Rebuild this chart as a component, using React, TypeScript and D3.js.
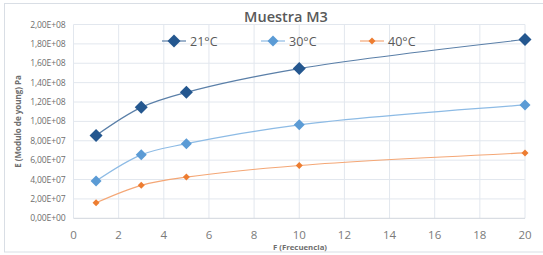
import React from "react";
import * as d3 from "d3";

const freq = [1, 3, 5, 10, 20];
const s21 = [8.55e7, 1.145e8, 1.3e8, 1.545e8, 1.845e8];
const s30 = [3.85e7, 6.55e7, 7.7e7, 9.65e7, 1.17e8];
const s40 = [1.6e7, 3.4e7, 4.25e7, 5.45e7, 6.75e7];
const seriesNames = ["21°C", "30°C", "40°C"];
const xTicks = [0, 2, 4, 6, 8, 10, 12, 14, 16, 18, 20];
const yTicks = [0, 2e7, 4e7, 6e7, 8e7, 1e8, 1.2e8, 1.4e8, 1.6e8, 1.8e8, 2e8];

const colors = ["#24578F", "#5B9BD5", "#ED7D31"];
const lineColors = ["#5A7FA8", "#8DBBE5", "#F4A776"];
const markerSize = [6.5, 5.5, 3.5];

function fmt(v: number) {
  const e = v === 0 ? 0 : Math.floor(Math.log10(v));
  const m = v === 0 ? 0 : v / Math.pow(10, e);
  return m.toFixed(2).replace(".", ",") + "E+" + String(e).padStart(2, "0");
}

export default function App() {
  const W = 543, H = 255;
  const left = 73.5, right = 525, top = 24.5, bottom = 218.3;
  const x = d3.scaleLinear().domain([0, 20]).range([left, right]);
  const y = d3.scaleLinear().domain([0, 2e8]).range([bottom, top]);
  const series = [s21, s30, s40];
  const line = d3
    .line<[number, number]>()
    .x((d) => x(d[0]))
    .y((d) => y(d[1]))
    .curve(d3.curveCatmullRom.alpha(0.5));
  const legendX = [174, 273, 372];
  const font = "'Open Sans', sans-serif";
  const diamond = (cx: number, cy: number, r: number) =>
    `M${cx},${cy - r}L${cx + r},${cy}L${cx},${cy + r}L${cx - r},${cy}Z`;
  return (
    <svg width={W} height={H} style={{ position: "absolute", left: 0, top: 0 }} fontFamily={font}>
      <rect x={0} y={0} width={W} height={H} fill="#fff" />
      <rect x={4.5} y={3.5} width={W} height={248.5} fill="#fff" stroke="#D9DEE5" strokeWidth={1} />
      {xTicks.map((t) => (
        <line key={"gx" + t} x1={x(t)} x2={x(t)} y1={top} y2={bottom} stroke="#E2E7EE" strokeWidth={1} />
      ))}
      {yTicks.map((t) => (
        <line key={"gy" + t} x1={left} x2={right} y1={y(t)} y2={y(t)} stroke={t === 0 ? "#D0D5DC" : "#E2E7EE"} strokeWidth={1} />
      ))}
      {yTicks.map((t) => (
        <text key={"yl" + t} x={65.5} y={y(t) + 3} textAnchor="end" fontSize={8.6} fill="#6E6E6E" letterSpacing={-0.15}>
          {fmt(t)}
        </text>
      ))}
      {xTicks.map((t) => (
        <text key={"xl" + t} x={x(t)} y={238.5} textAnchor="middle" fontSize={11.5} fill="#7A7A7A">
          {t}
        </text>
      ))}
      <text x={286} y={22} textAnchor="middle" fontSize={14.5} fontWeight={600} fill="#595959">
        Muestra M3
      </text>
      <text x={300} y={249.5} textAnchor="middle" fontSize={7.8} fontWeight={700} fill="#6E6E6E">
        F (Frecuencia)
      </text>
      <text
        transform={`translate(21,${(top + bottom) / 2}) rotate(-90)`}
        textAnchor="middle"
        fontSize={8}
        fontWeight={700}
        fill="#6E6E6E"
      >
        E  (Modulo de young) Pa
      </text>
      {series.map((s, i) => {
        const pts = freq.map((f, j) => [f, s[j]] as [number, number]);
        return (
          <g key={"s" + i}>
            <path d={line(pts) || ""} fill="none" stroke={lineColors[i]} strokeWidth={1.2} />
            {pts.map((p, j) => (
              <path key={j} d={diamond(x(p[0]), y(p[1]), markerSize[i])} fill={colors[i]} />
            ))}
          </g>
        );
      })}
      {seriesNames.map((n, i) => (
        <g key={"lg" + i}>
          <line x1={legendX[i] - 12} x2={legendX[i] + 12} y1={41} y2={41} stroke={lineColors[i]} strokeWidth={1.2} />
          <path d={diamond(legendX[i], 41, markerSize[i])} fill={colors[i]} />
          <text x={legendX[i] + 16} y={45.5} fontSize={12.5} fill="#595959">
            {n}
          </text>
        </g>
      ))}
    </svg>
  );
}
